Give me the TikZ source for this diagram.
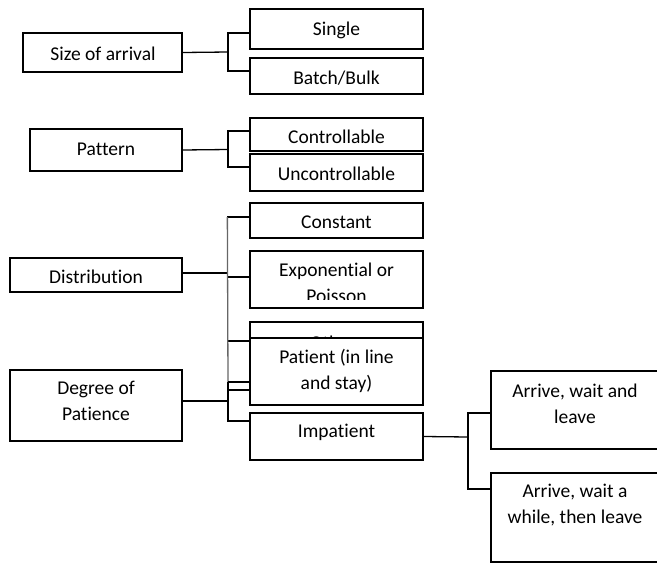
\documentclass[tikz,border=0pt]{standalone}
\usepackage{fontspec}
\setmainfont{Carlito}[Ligatures=NoCommon]
\usetikzlibrary{calc}
\tikzset{
  box/.style={draw, line width=1.3pt, fill=white, inner sep=0pt},
  lbl/.style={inner sep=0pt, anchor=north, align=center, font=\fontsize{19.5}{26}\selectfont},
  conn/.style={line width=1.3pt},
}
\begin{document}
\begin{tikzpicture}[x=1pt,y=-1pt]
\useasboundingbox (0,0) rectangle (657,563);
\clip (0,0) rectangle (657,563);
% left boxes
\node[box, minimum width=159, minimum height=39] (size) at (102.5,52.5) {};
\node[lbl] (sizet) at (103,41.8) {\strut Size of arrival};
\node[box, minimum width=152, minimum height=42] (pattern) at (106,150) {};
\node[lbl] (patternt) at (106,136.8) {\strut Pattern};
\node[box, minimum width=172, minimum height=34] (distribution) at (96,275) {};
\node[lbl] (distributiont) at (96,265.3) {\strut Distribution};
\node[box, minimum width=172, minimum height=71] (degree) at (96,405.5) {};
\node[lbl] (degreet) at (96,376.3) {\strut Degree of\\Patience};
% middle boxes
\node[box, minimum width=173, minimum height=40] (single) at (336.5,29) {};
\node[lbl] (singlet) at (336.5,16.8) {\strut Single};
\node[box, minimum width=173, minimum height=36] (batch) at (336.5,76) {};
\node[lbl] (batcht) at (336.5,65.8) {\strut Batch/Bulk};
\node[box, minimum width=173, minimum height=33] (controllable) at (336.5,134.5) {};
\node[lbl] (controllablet) at (336.5,125.3) {\strut Controllable};
\node[box, minimum width=173, minimum height=37] (uncontrollable) at (336.5,172.5) {};
\node[lbl] (uncontrollablet) at (336.5,161.8) {\strut Uncontrollable};
\node[box, minimum width=173, minimum height=35] (constant) at (336.5,220.5) {};
\node[lbl] (constantt) at (336.5,210.3) {\strut Constant};
\node[box, minimum width=173, minimum height=57] (exponential) at (336.5,279.5) {};
\begin{scope}
\clip (250,251) rectangle (423,299.5);
\node[lbl] (exponentialt) at (336.5,257.8) {\strut Exponential or\\Poisson};
\end{scope}
\node[box, minimum width=173, minimum height=35] (others) at (336.5,339.5) {};
\node[lbl] (otherst) at (336.5,331.5) {\strut Others};
\node[box, minimum width=173, minimum height=67] (patient) at (336.5,371.5) {};
\node[lbl] (patientt) at (336.5,344.8) {\strut Patient (in line\\and stay)};
\node[box, minimum width=173, minimum height=47] (impatient) at (336.5,436.5) {};
\node[lbl] (impatientt) at (336.5,418.8) {\strut Impatient};
% right boxes
\node[box, minimum width=170, minimum height=78] (arrive1) at (576,410) {};
\node[lbl] (arrive1t) at (575,378.8) {\strut Arrive, wait and\\leave};
\node[box, minimum width=170, minimum height=89] (arrive2) at (576,517.5) {};
\node[lbl] (arrive2t) at (575,479.3) {\strut Arrive, wait a\\while, then leave};
% connectors
\coordinate (ja) at (228,52);
\draw[conn] (size.east) -- (ja);
\draw[conn] ($(single.west)+(0,4)$) -| (ja);
\draw[conn] ($(batch.west)+(0,-5)$) -| (ja);
\coordinate (jb) at (228,149.5);
\draw[conn] (pattern.east) -- (jb);
\draw[conn] ($(controllable.west)+(0,-3.5)$) -| (jb);
\draw[conn] ($(uncontrollable.west)+(0,-5.5)$) -| (jb);
\coordinate (jc) at (228,273);
\coordinate (jd) at (228,382);
\draw[conn] ($(distribution.east)+(0,-2)$) -- (jc);
\draw[conn] ($(constant.west)+(0,-3.5)$) -- ++(-22,0) coordinate (dtop);
\draw[conn] ($(exponential.west)+(0,-2.5)$) -- ++(-22,0);
\draw[conn] ($(others.west)+(0,1.5)$) -- ++(-22,0);
\draw[conn, black!60] (dtop) -- (jd);
\coordinate (je) at (228,401);
\draw[conn] ($(degree.east)+(0,-4.5)$) -- (je);
\draw[conn] (jd) -- ($(patient.west)+(0,10.5)$);
\draw[conn] ($(patient.west)+(0,18.5)$) -| (je);
\draw[conn] ($(impatient.west)+(0,-15.5)$) -| (jd);
\coordinate (jf) at (468,437);
\draw[conn] (impatient.east) -- (jf);
\draw[conn] ($(arrive1.west)+(0,3)$) -| (jf);
\draw[conn] ($(arrive2.west)+(0,-28.5)$) -| (jf);
\end{tikzpicture}
\end{document}
